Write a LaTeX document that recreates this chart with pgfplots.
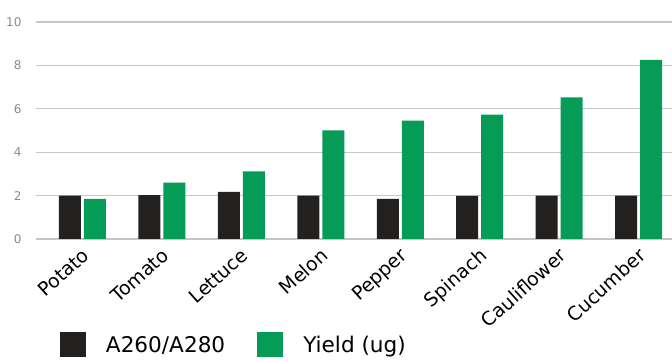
\documentclass[border=0pt]{standalone}
\usepackage{pgfplots}
\pgfplotsset{compat=1.18}
\usepackage{fontspec}
\setmainfont{DejaVu Sans}
\definecolor{barblack}{HTML}{232120}
\definecolor{bargreen}{HTML}{079B58}
\definecolor{gridgray}{HTML}{C6C6C6}
\definecolor{tickgray}{HTML}{8A8A8A}
\begin{document}
\begin{tikzpicture}
\begin{axis}[
  at={(36bp,123bp)}, anchor=south west,
  scale only axis,
  width=636bp, height=217bp,
  xmin=-0.585, xmax=7.42,
  ymin=0, ymax=10,
  ytick={0,2,4,6,8,10},
  xtick={0,1,2,3,4,5,6,7},
  xticklabels={Potato,Tomato,Lettuce,Melon,Pepper,Spinach,Cauliflower,Cucumber},
  ybar=3bp, bar width=22bp,
  axis line style={draw=none},
  major tick length=0pt,
  ymajorgrids, grid style={gridgray, line width=1.2bp},
  /pgf/number format/assume math mode=true,
  yticklabel style={font=\fontsize{12bp}{14bp}\selectfont, text=tickgray, xshift=-11bp},
  xticklabel style={font=\fontsize{19bp}{21bp}\selectfont, xshift=-1bp, yshift=-3bp, rotate=42, anchor=north east},
  legend columns=2,
  legend style={at={(0.0377,-0.488)}, anchor=west, draw=none, inner sep=0pt, outer sep=0pt,
    font=\fontsize{21.6bp}{24bp}\selectfont,
    nodes={inner sep=0pt},
    column sep=20bp,
    /tikz/every even column/.append style={column sep=32bp}},
  legend image code/.code={\fill[#1] (0bp,-12.5bp) rectangle (26bp,12.5bp);},
]
\addplot[fill=barblack, draw=none] coordinates {(0,2.0) (1,2.02) (2,2.17) (3,2.0) (4,1.85) (5,1.99) (6,2.0) (7,2.0)};
\addplot[fill=bargreen, draw=none] coordinates {(0,1.85) (1,2.6) (2,3.12) (3,5.0) (4,5.45) (5,5.73) (6,6.53) (7,8.26)};
\legend{A260/A280, Yield (ug)}
\end{axis}
\pgfresetboundingbox
\path[use as bounding box] (0,0) rectangle (672bp,362bp);
\end{tikzpicture}
\end{document}
